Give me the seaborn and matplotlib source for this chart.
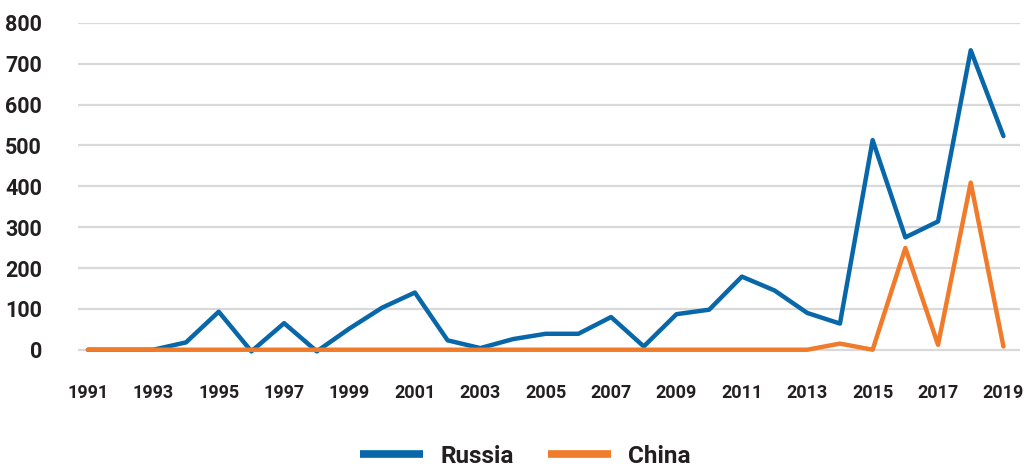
import pandas as pd
import numpy as np
import matplotlib.pyplot as plt
import seaborn as sns

# Values
years = list(range(1991, 2020))
russia = [0, 0, 0, 18, 93, -4, 65, -4, 52, 103, 140, 23, 4, 26, 39,
          39, 80, 8, 87, 98, 179, 145, 90, 64, 513, 275, 314, 733, 523]
china = [0, 0, 0, 0, 0, 0, 0, 0, 0, 0, 0, 0, 0, 0, 0,
         0, 0, 0, 0, 0, 0, 0, 0, 15, 0, 249, 12, 409, 8]
year_ticks = list(range(1991, 2020, 2))
y_ticks = [0, 100, 200, 300, 400, 500, 600, 700, 800]

df = pd.DataFrame({
    'Year': years * 2,
    'Value': russia + china,
    'Country': ['Russia'] * len(years) + ['China'] * len(years),
})

sns.set_style('white')
plt.rcParams['font.family'] = ['Roboto', 'DejaVu Sans']
text_color = '#231f20'
palette = {'Russia': '#0767a8', 'China': '#f07b2a'}

fig = plt.figure(figsize=(10.28, 4.67), dpi=100)
ax = fig.add_axes([0.076, 0.238, 0.916, 0.713])

sns.lineplot(data=df, x='Year', y='Value', hue='Country', palette=palette,
             linewidth=3.2, ax=ax, legend=False, clip_on=False, zorder=3)

ax.set_xlim(1990.7, 2019.5)
ax.set_ylim(-15, 800)
ax.set_xticks(year_ticks)
ax.set_yticks(y_ticks)
ax.set_xlabel('')
ax.set_ylabel('')
ax.grid(axis='y', color='#d9d9d9', linewidth=1.6)
ax.grid(axis='x', visible=False)
sns.despine(ax=ax, left=True, bottom=True)
ax.tick_params(axis='both', length=0, colors=text_color)
ax.tick_params(axis='y', labelsize=15.5, pad=26)
ax.tick_params(axis='x', labelsize=13, pad=20)
for lab in ax.get_xticklabels() + ax.get_yticklabels():
    lab.set_fontweight('bold')

handles = [plt.Line2D([0], [0], color=palette[c], linewidth=5.5, solid_capstyle='butt')
           for c in ['Russia', 'China']]
leg = fig.legend(handles, ['Russia', 'China'], loc='lower center', ncol=2,
                 bbox_to_anchor=(0.511, -0.048), frameon=False, handlelength=2.6,
                 columnspacing=1.4, handletextpad=0.7,
                 prop={'size': 17.5, 'weight': 'bold'})
for t in leg.get_texts():
    t.set_color(text_color)

fig.savefig('out.png', dpi=100)
